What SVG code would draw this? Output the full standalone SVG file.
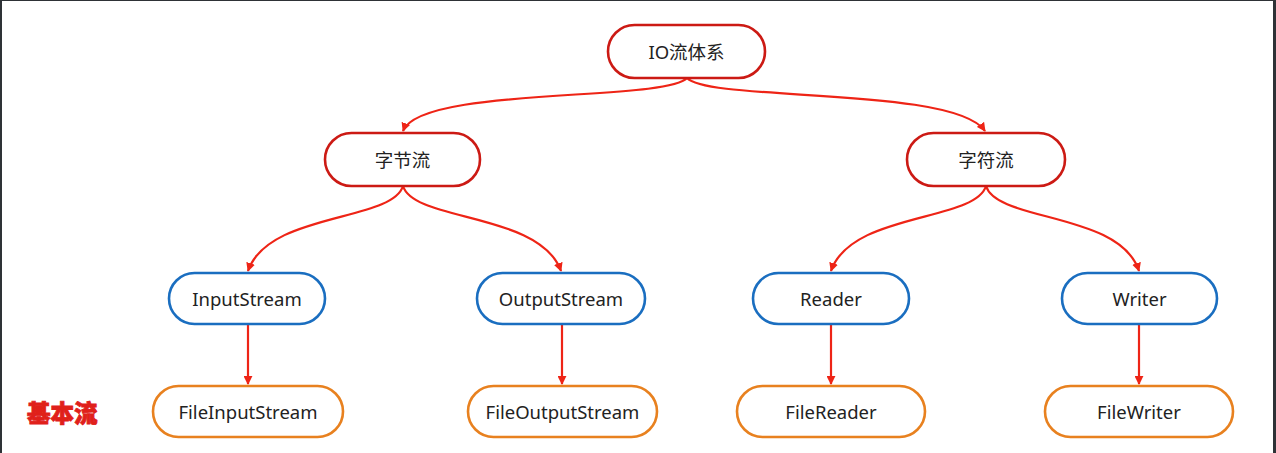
<svg xmlns="http://www.w3.org/2000/svg" width="1276" height="453" viewBox="0 0 1276 453">
<defs>
<marker id="ah" viewBox="0 0 10 10" refX="9" refY="5" markerWidth="9" markerHeight="9" markerUnits="userSpaceOnUse" orient="auto">
<path d="M0,0 L10,5 L0,10 z" fill="#ee2416"/>
</marker>
<style>
.n rect{fill:#fff;stroke-width:2.6}
.r rect{stroke:#cc1a14}
.b rect{stroke:#1a6ec0}
.o rect{stroke:#e8811f}
.n text{font-family:"Noto Sans","Noto Sans CJK SC",sans-serif;font-size:18.5px;fill:#222;text-anchor:middle;dominant-baseline:central}
#connectors path{fill:none;stroke:#ee2416;stroke-width:2.2;marker-end:url(#ah)}
</style>
</defs>
<rect x="0" y="0" width="1276" height="453" fill="#fff"/>
<rect x="0" y="0" width="2" height="453" fill="#2e3236"/>
<rect x="1273" y="0" width="3" height="453" fill="#2e3236"/>
<rect x="0" y="0" width="1276" height="1" fill="#2e3236"/>
<g id="connectors">
<path d="M687,78 C665,102 420,86 403,131"/>
<path d="M687,78 C709,102 954,86 985,131"/>
<path d="M403,186 C392,222 268,212 248,271"/>
<path d="M403,186 C414,222 540,212 561,271"/>
<path d="M986,186 C975,222 851,212 831,271"/>
<path d="M986,186 C997,222 1120,212 1139,271"/>
<path d="M248,324 L248,384"/>
<path d="M562,324 L562,384"/>
<path d="M831,324 L831,384"/>
<path d="M1139,324 L1139,384"/>
</g>
<g id="n-io" class="n r"><rect x="608" y="25" width="157" height="53" rx="26.5"/><text x="686.5" y="51.5">IO流体系</text></g>
<g id="n-byte" class="n r"><rect x="325" y="133" width="155" height="53" rx="26.5"/><text x="402.5" y="159.5">字节流</text></g>
<g id="n-char" class="n r"><rect x="907" y="133" width="158" height="53" rx="26.5"/><text x="986" y="159.5">字符流</text></g>
<g id="n-input" class="n b"><rect x="169" y="273" width="156" height="51" rx="25.5"/><text x="247" y="298.5">InputStream</text></g>
<g id="n-output" class="n b"><rect x="477" y="273" width="168" height="51" rx="25.5"/><text x="561" y="298.5">OutputStream</text></g>
<g id="n-reader" class="n b"><rect x="753" y="273" width="156" height="51" rx="25.5"/><text x="831" y="298.5">Reader</text></g>
<g id="n-writer" class="n b"><rect x="1062" y="273" width="155" height="51" rx="25.5"/><text x="1139.5" y="298.5">Writer</text></g>
<g id="n-fis" class="n o"><rect x="153" y="386" width="190" height="51" rx="25.5"/><text x="248" y="411.5">FileInputStream</text></g>
<g id="n-fos" class="n o"><rect x="468" y="386" width="189" height="51" rx="25.5"/><text x="562.5" y="411.5">FileOutputStream</text></g>
<g id="n-fr" class="n o"><rect x="737" y="386" width="188" height="51" rx="25.5"/><text x="831" y="411.5">FileReader</text></g>
<g id="n-fw" class="n o"><rect x="1045" y="386" width="188" height="51" rx="25.5"/><text x="1139" y="411.5">FileWriter</text></g>
<text x="27" y="422" font-family="'Noto Sans CJK SC',sans-serif" font-size="23.5" font-weight="900" fill="#e0201a" stroke="#e0201a" stroke-width="0.8">基本流</text>
</svg>
